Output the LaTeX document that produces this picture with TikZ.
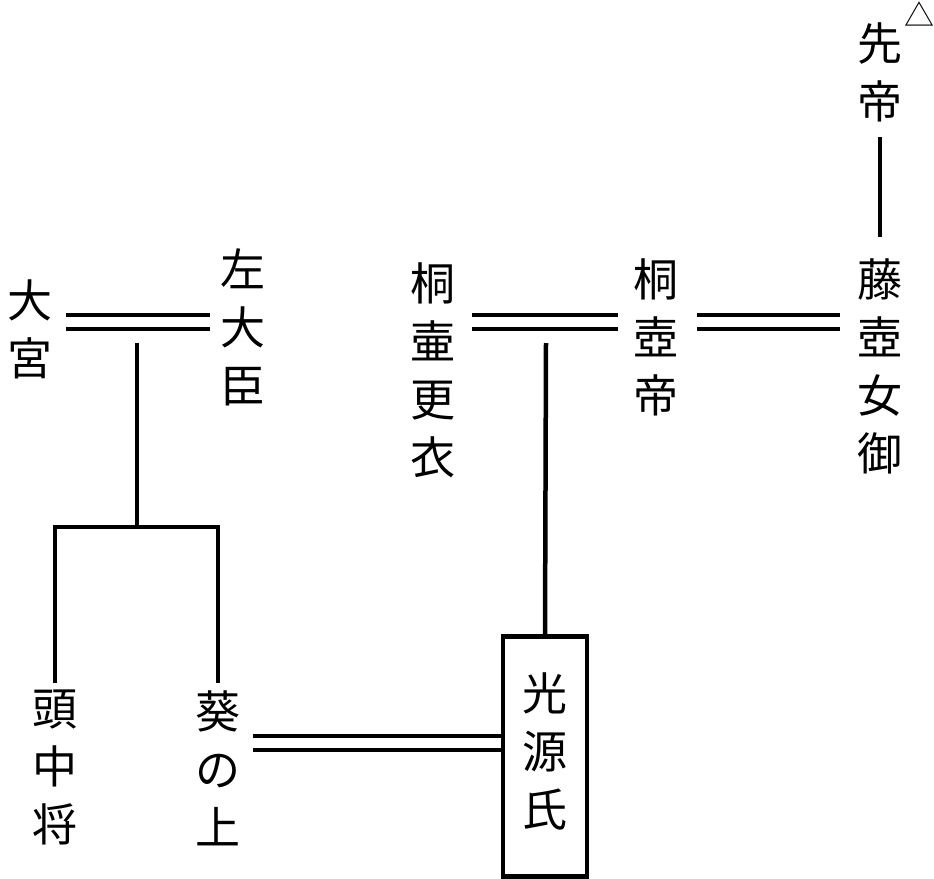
\documentclass[tikz,border=0pt]{standalone}
\usepackage{fontspec}
\newfontfamily\cjk{Noto Sans CJK JP}
\begin{document}
\begin{tikzpicture}[x=1pt,y=-1pt,
  vtext/.style={font=\cjk\fontsize{45}{58}\selectfont, align=center, inner sep=0pt, anchor=north},
  rel/.style={line width=4.5pt},
  boxed/.style={draw, line width=4.5pt, minimum width=84pt, minimum height=240pt, inner sep=0pt, anchor=north}
]
\useasboundingbox (0,0) rectangle (934,878);
% nodes
\node[vtext] (sentei) at (880,22) {先\\帝};
\node[font=\cjk\fontsize{30}{30}\selectfont, inner sep=0pt] (tri) at (919,14) {△};
\node[vtext] (fujitsubo) at (880,258) {藤\\壺\\女\\御};
\node[vtext] (kiritsubotei) at (656,258) {桐\\壺\\帝};
\node[vtext] (koi) at (433,262) {桐\\壷\\更\\衣};
\node[vtext] (sadaijin) at (243,248) {左\\大\\臣};
\node[vtext] (omiya) at (30,280) {大\\宮};
\node[boxed] (genji) at (545,634) {};
\node[vtext] at (545,672) (genjitext) {光\\源\\氏};
\node[vtext] (aoi) at (218,690) {葵\\の\\上};
\node[vtext] (tonochujo) at (55,690) {頭\\中\\将};
% coordinates
\coordinate (s1) at (880,137);
\coordinate (s2) at (880,237);
\coordinate (kf1) at (697,329);
\coordinate (kf2) at (840,329);
\coordinate (kk1) at (472,329);
\coordinate (kk2) at (618,329);
\coordinate (sd1) at (66,329);
\coordinate (sd2) at (210,329);
\coordinate (ag1) at (253,750);
\coordinate (kkmid) at (546,343);
\coordinate (sdmid) at (137,343);
\coordinate (branch) at (137,527);
\coordinate (bl) at (55,527);
\coordinate (br) at (218,527);
\coordinate (tcend) at (55,683);
\coordinate (aoiend) at (218,683);
% lines
\draw[rel] (s1) -- (s2);
\draw[rel] (kf1) -- (kf2);
\draw[rel] ([yshift=14pt]kf1) -- ([yshift=14pt]kf2);
\draw[rel] (kk1) -- (kk2);
\draw[rel] ([yshift=14pt]kk1) -- ([yshift=14pt]kk2);
\draw[rel] (sd1) -- (sd2);
\draw[rel] ([yshift=14pt]sd1) -- ([yshift=14pt]sd2);
\draw[rel] (kkmid) -- (genji.north);
\draw[rel] (sdmid) -- (branch);
\draw[rel] (tcend) -- (bl) -- (br) -- (aoiend);
\draw[rel] (ag1) -- (ag1 -| genji.west);
\draw[rel] ([yshift=14pt]ag1) -- ([yshift=14pt]ag1 -| genji.west);
\end{tikzpicture}
\end{document}
